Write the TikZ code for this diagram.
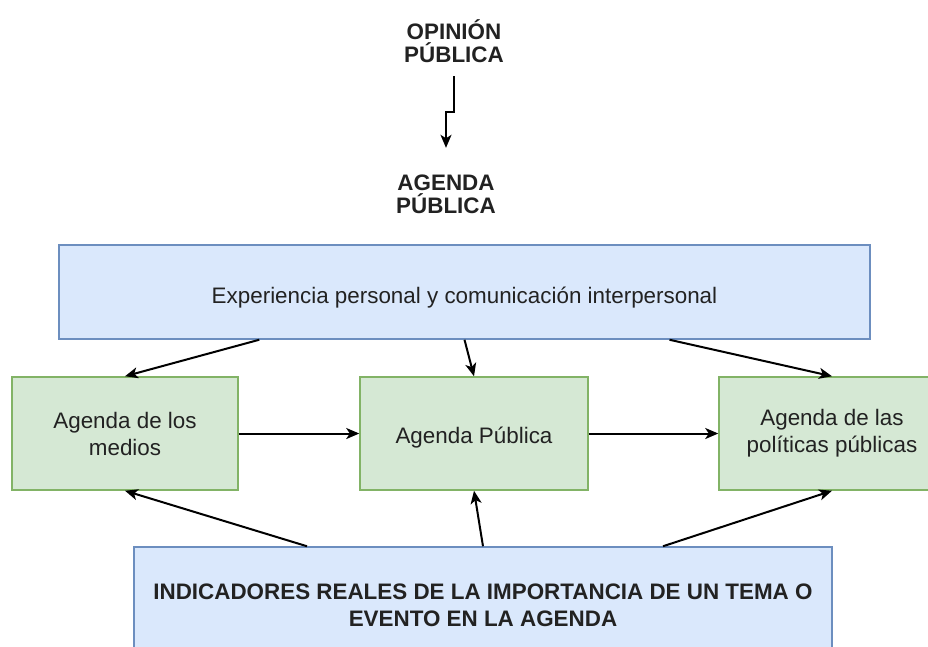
\documentclass[tikz,border=0pt]{standalone}
\usepackage{fontspec}
\setmainfont{Liberation Sans}
\usepackage{tikz}
\usetikzlibrary{arrows.meta,calc,positioning}
\usepackage{xcolor}
\definecolor{bluefill}{HTML}{DAE8FC}
\definecolor{bluedraw}{HTML}{6C8EBF}
\definecolor{greenfill}{HTML}{D5E8D4}
\definecolor{greendraw}{HTML}{82B366}
\definecolor{txt}{HTML}{222222}
\begin{document}
\begin{tikzpicture}[x=1pt,y=-1pt,
  font=\fontsize{22.4}{27}\selectfont,text=txt,
  link/.style={->,line width=2pt,>={Stealth[length=13pt,width=11pt,inset=3.5pt]}},
  bluebox/.style={draw=bluedraw,fill=bluefill,line width=1.5pt,inner sep=0pt,align=center},
  greenbox/.style={draw=greendraw,fill=greenfill,line width=1.5pt,inner sep=0pt,align=center,
    minimum width=226pt,minimum height=113pt},
  label/.style={inner sep=0pt,align=center,font=\fontsize{22.4}{23}\selectfont\bfseries}]
\clip (0,0) rectangle (928,646);
\node[label,minimum height=70pt] (O) at (454,41) {OPINIÓN\\PÚBLICA};
\node[label,minimum height=92pt] (A) at (446,194) {AGENDA\\PÚBLICA};
\node[bluebox,minimum width=811pt,minimum height=94pt,text height=28pt,text depth=5pt] (E) at (464.5,292)
  {Experiencia personal y comunicación interpersonal};
\node[greenbox] (M) at (125,433.5) {Agenda de los\\medios};
\node[greenbox,minimum width=228pt,text height=25pt,text depth=5pt] (P) at (474,433.5) {Agenda Pública};
\node[greenbox] (L) at (832,433.5) {Agenda de las\\políticas públicas};
\node[bluebox,minimum width=698pt,minimum height=116pt,font=\fontsize{22.4}{27}\selectfont\bfseries] (I) at (483,605)
  {INDICADORES REALES DE LA IMPORTANCIA DE UN TEMA O\\EVENTO EN LA AGENDA};
\coordinate (bend) at ($(O.south)!.5!(A.north)$);
\draw[link] (O.south) |- (bend) -| (A.north);
\draw[link] ([xshift=201pt]E.south west) -- (M.north);
\draw[link] (E.south) -- (P.north);
\draw[link] ([xshift=205pt]E.south) -- (L.north);
\draw[link] (M.east) -- (P.west);
\draw[link] (P.east) -- (L.west);
\draw[link] ([xshift=-176pt]I.north) -- (M.south);
\draw[link] (I.north) -- (P.south);
\draw[link] ([xshift=180pt]I.north) -- (L.south);
\end{tikzpicture}
\end{document}
